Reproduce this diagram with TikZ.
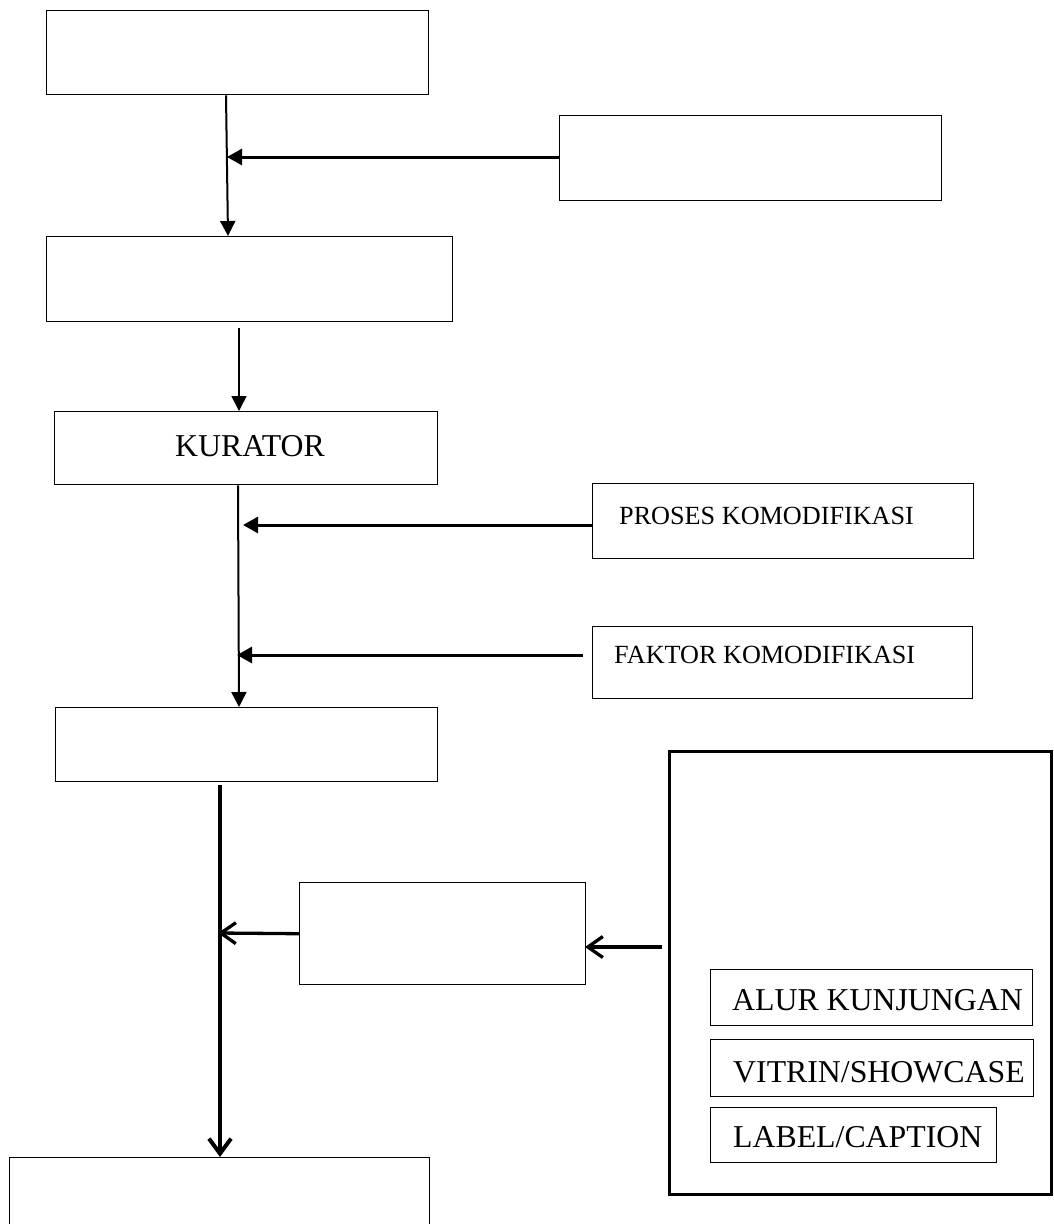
\documentclass[tikz,border=0pt]{standalone}
\usepackage{fontspec}
\setmainfont{Liberation Serif}
\usetikzlibrary{arrows.meta}
\begin{document}
\begin{tikzpicture}[x=1pt,y=-1pt,
  box/.style={draw=black,line width=1.4pt,inner sep=0pt,anchor=north west},
  bigbox/.style={draw=black,line width=2.6pt,inner sep=0pt,anchor=north west},
  txt/.style={inner sep=0pt,anchor=base west,font=\fontsize{31.8}{34}\selectfont},
  stxt/.style={inner sep=0pt,anchor=base west,font=\fontsize{26.2}{29}\selectfont},
  farr/.style={line width=2pt,-{Triangle[length=15pt,width=15pt]}},
  farrh/.style={line width=3pt,-{Triangle[length=15pt,width=16pt]}},
  oarr/.style={line width=3.3pt,-{Straight Barb[length=15pt,width=21pt]}},
  oarrv/.style={line width=4pt,-{Straight Barb[length=15pt,width=22pt]}}]
\useasboundingbox (0,0) rectangle (1053,1224);
\clip (0,0) rectangle (1053,1224);
% boxes
\node[box,minimum width=382pt,minimum height=84pt] (b1) at (46,10) {};
\node[box,minimum width=382pt,minimum height=85pt] (b2) at (559,115) {};
\node[box,minimum width=406pt,minimum height=85pt] (b3) at (46,236) {};
\node[box,minimum width=383pt,minimum height=73pt] (kur) at (54,411) {};
\node[box,minimum width=381pt,minimum height=75pt] (pro) at (592,483) {};
\node[box,minimum width=380pt,minimum height=72pt] (fak) at (592,626) {};
\node[box,minimum width=382pt,minimum height=74pt] (b5) at (55,707) {};
\node[box,minimum width=286pt,minimum height=102pt] (mid) at (299,882) {};
\node[bigbox,minimum width=382pt,minimum height=443pt] (big) at (668,750) {};
\node[box,minimum width=322pt,minimum height=56pt] (alur) at (710,969) {};
\node[box,minimum width=323pt,minimum height=57pt] (vit) at (710,1039) {};
\node[box,minimum width=286pt,minimum height=55pt] (lab) at (710,1107) {};
\node[box,minimum width=420pt,minimum height=120pt] (bot) at (9,1157) {};
% texts
\node[txt] (kurT) at (175,456.5) {KURATOR};
\node[stxt] (proT) at (619,524.6) {PROSES KOMODIFIKASI};
\node[stxt] (fakT) at (614,663.6) {FAKTOR KOMODIFIKASI};
\node[txt] (alurT) at (732,1010.4) {ALUR KUNJUNGAN};
\node[txt] (vitT) at (733,1082.4) {VITRIN/SHOWCASE};
\node[txt] (labT) at (733,1147.4) {LABEL/CAPTION};
% junction coordinates
\coordinate (j1) at (227,157);
\coordinate (j2) at (243,525);
\coordinate (j3) at (237,655);
\coordinate (s3) at (583,655);
\coordinate (j4) at (218,933);
\coordinate (s5) at (662,947);
\coordinate (e5) at (585,947);
% connectors
\draw[farr] ([xshift=180pt]b1.south west) -- ([xshift=182pt]b3.north west);
\draw[farrh] (b2.west |- j1) -- (j1);
\draw[farr,line width=1.6pt] ([xshift=193pt,yshift=-6pt]b3.south west) -- ([xshift=185pt]kur.north west);
\draw[farr] ([xshift=184pt]kur.south west) -- ([xshift=184pt]b5.north west);
\draw[farrh] (pro.west |- j2) -- (j2);
\draw[farrh] (s3) -- (j3);
\draw[oarrv] ([xshift=165pt,yshift=-3pt]b5.south west) -- ([xshift=211pt]bot.north west);
\draw[oarr] (mid.west) -- (j4);
\draw[oarr] (s5) -- (e5);
\end{tikzpicture}
\end{document}
